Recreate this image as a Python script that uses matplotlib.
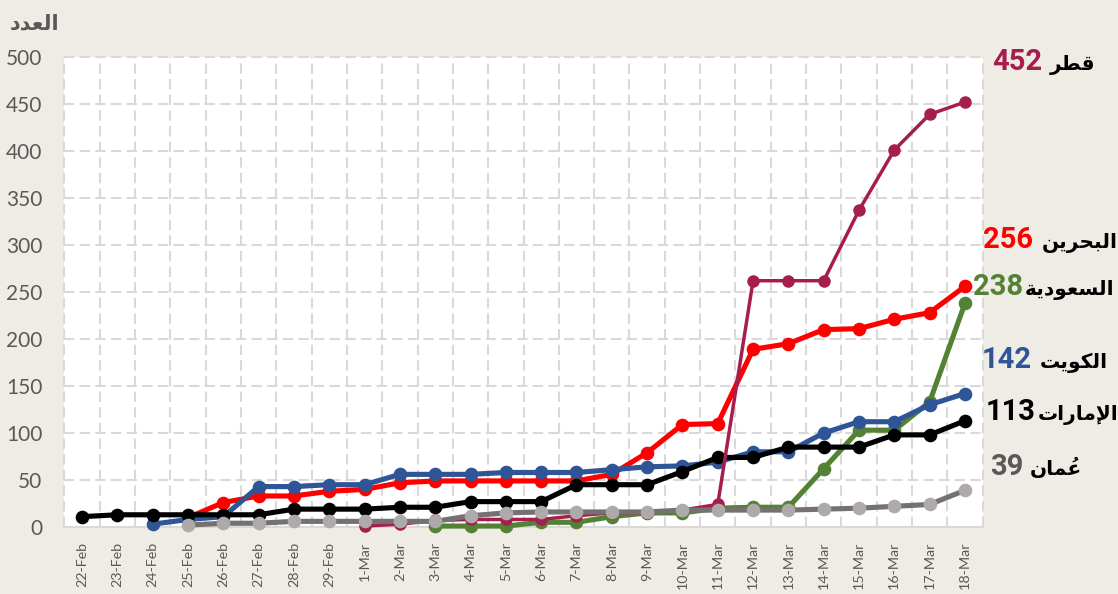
import matplotlib
matplotlib.use("Agg")
import matplotlib.pyplot as plt

# ---------------- data ----------------
dates = ["22-Feb", "23-Feb", "24-Feb", "25-Feb", "26-Feb", "27-Feb", "28-Feb", "29-Feb",
         "1-Mar", "2-Mar", "3-Mar", "4-Mar", "5-Mar", "6-Mar", "7-Mar", "8-Mar", "9-Mar",
         "10-Mar", "11-Mar", "12-Mar", "13-Mar", "14-Mar", "15-Mar", "16-Mar", "17-Mar", "18-Mar"]
N = None
bahrain = [N, N, N, 10, 26, 33, 33, 38, 40, 47, 49, 49, 49, 49, 49, 56, 79, 109, 110, 189, 195, 210, 211, 221, 228, 256]
saudi   = [N, N, N, N, N, N, N, N, N, N, 1, 1, 1, 5, 5, 11, 15, 15, 20, 21, 21, 62, 103, 103, 133, 238]
kuwait  = [N, N, 3, 8, 11, 43, 43, 45, 45, 56, 56, 56, 58, 58, 58, 61, 64, 65, 69, 80, 80, 100, 112, 112, 130, 142]
uae     = [11, 13, 13, 13, 13, 13, 19, 19, 19, 21, 21, 27, 27, 27, 45, 45, 45, 59, 74, 74, 85, 85, 85, 98, 98, 113]
qatar   = [N, N, N, N, N, N, N, N, 1, 3, 7, 8, 8, 8, 12, 15, 15, 18, 24, 262, 262, 262, 337, 401, 439, 452]
oman    = [N, N, N, 2, 4, 4, 6, 6, 6, 6, 6, 12, 15, 16, 16, 16, 16, 18, 18, 18, 18, 19, 20, 22, 24, 39]

names = {"qatar": "قطر", "bahrain": "البحرين", "saudi": "السعودية",
         "kuwait": "الكويت", "uae": "الإمارات", "oman": "عُمان"}
y_title = "العدد"
yticks = [0, 50, 100, 150, 200, 250, 300, 350, 400, 450, 500]

# ---------------- minimal Arabic shaping (presentation forms) ----------------
FORMS = {
    'ا': (0xFE8D, 0xFE8E, None, None), 'إ': (0xFE87, 0xFE88, None, None),
    'أ': (0xFE83, 0xFE84, None, None),
    'ل': (0xFEDD, 0xFEDE, 0xFEDF, 0xFEE0), 'ع': (0xFEC9, 0xFECA, 0xFECB, 0xFECC),
    'د': (0xFEA9, 0xFEAA, None, None), 'ق': (0xFED5, 0xFED6, 0xFED7, 0xFED8),
    'ط': (0xFEC1, 0xFEC2, 0xFEC3, 0xFEC4), 'ر': (0xFEAD, 0xFEAE, None, None),
    'ب': (0xFE8F, 0xFE90, 0xFE91, 0xFE92), 'ح': (0xFEA1, 0xFEA2, 0xFEA3, 0xFEA4),
    'ي': (0xFEF1, 0xFEF2, 0xFEF3, 0xFEF4), 'ن': (0xFEE5, 0xFEE6, 0xFEE7, 0xFEE8),
    'س': (0xFEB1, 0xFEB2, 0xFEB3, 0xFEB4), 'و': (0xFEED, 0xFEEE, None, None),
    'ة': (0xFE93, 0xFE94, None, None), 'ك': (0xFED9, 0xFEDA, 0xFEDB, 0xFEDC),
    'ت': (0xFE95, 0xFE96, 0xFE97, 0xFE98), 'م': (0xFEE1, 0xFEE2, 0xFEE3, 0xFEE4),
}
LAMALEF = {'ا': (0xFEFB, 0xFEFC), 'إ': (0xFEF9, 0xFEFA), 'أ': (0xFEF7, 0xFEF8)}
MARKS = set('\u064B\u064C\u064D\u064E\u064F\u0650\u0651\u0652')


def shape(s):
    """Return (visual string without marks, list of (visual index of base, mark))."""
    clusters = []
    for ch in s:
        if ch in MARKS and clusters:
            clusters[-1][1].append(ch)
        else:
            clusters.append([ch, []])
    out = []
    i = 0
    prev_joins = False
    while i < len(clusters):
        b, m = clusters[i]
        if b not in FORMS:
            out.append([b, m]); prev_joins = False; i += 1; continue
        dual = FORMS[b][2] is not None
        if b == 'ل' and i + 1 < len(clusters) and clusters[i + 1][0] in LAMALEF:
            lig = LAMALEF[clusters[i + 1][0]]
            out.append([chr(lig[1] if prev_joins else lig[0]), m + clusters[i + 1][1]])
            prev_joins = False
            i += 2
            continue
        nxt = i + 1 < len(clusters) and clusters[i + 1][0] in FORMS
        cn = dual and nxt
        f = FORMS[b]
        if prev_joins and cn:
            g = f[3]
        elif cn:
            g = f[2]
        elif prev_joins:
            g = f[1]
        else:
            g = f[0]
        out.append([chr(g), m])
        prev_joins = dual
        i += 1
    vis = list(reversed(out))
    text = ''.join(b for b, _ in vis)
    marks = [(k, ''.join(m)) for k, (b, m) in enumerate(vis) if m]
    return text, marks


# ---------------- style ----------------
W, H = 1118, 594
bg = '#EEECE5'
grid_c = '#D9D9D9'
txt_c = '#595959'
AR_FONT = 'DejaVu Sans'
NUM_FONT = 'Roboto'
TICK_FONT = 'Lato'

fig = plt.figure(figsize=(W / 100, H / 100), dpi=100, facecolor=bg)
ax = fig.add_axes([64.4 / W, (H - 527) / H, (982.6 - 64.4) / W, 470 / H])
ax.set_facecolor('white')

x = list(range(len(dates)))

series = [
    (bahrain, '#FF0000', '#FF0000', 3.7, 8.8, 2),
    (saudi, '#548235', '#548235', 3.7, 8.8, 3),
    (kuwait, '#2F5597', '#2F5597', 3.7, 8.8, 4),
    (uae, '#000000', '#000000', 3.7, 8.8, 5),
    (qatar, '#A61E4D', '#A61E4D', 2.5, 8.0, 6),
    (oman, '#767171', '#AEAAAA', 3.7, 8.8, 7),
]
for vals, lc, mc, lw, ms, z in series:
    xs = [xi for xi, v in zip(x, vals) if v is not None]
    ys = [v for v in vals if v is not None]
    ax.plot(xs, ys, color=lc, lw=lw, marker='o', ms=ms, mfc=mc, mec=mc,
            solid_joinstyle='round', zorder=z, clip_on=False)

ax.set_xlim(-0.5, len(dates) - 0.5)
ax.set_ylim(0, 500)
ax.set_yticks(yticks)
ax.set_xticks(x)
ax.set_xticklabels(dates, rotation=90, fontsize=10.3, color=txt_c, family=TICK_FONT)
ax.set_yticklabels([str(t) for t in yticks], fontsize=15, color=txt_c, family='Lato')
ax.tick_params(axis='both', length=0)
ax.tick_params(axis='y', pad=16)
ax.tick_params(axis='x', pad=10.5)

for t in yticks[1:]:
    ax.axhline(t, color=grid_c, lw=1.5, ls=(0, (5, 2.5)), zorder=0, clip_on=False)
for b in range(len(dates) + 1):
    ax.axvline(b - 0.5, color=grid_c, lw=1.5, ls=(0, (5, 2.5)), zorder=0, clip_on=False)

for s in ['top', 'left', 'right']:
    ax.spines[s].set_visible(False)
ax.spines['bottom'].set_color(grid_c)
ax.spines['bottom'].set_linewidth(1.5)

renderer = fig.canvas.get_renderer()

# spacing (isolated) presentation forms of the harakat, so each has a real width
SPACING_MARK = {'\u064F': '\uFE78', '\u064E': '\uFE76', '\u0650': '\uFE7A'}


def text_width(s, fs):
    if not s:
        return 0.0
    tmp = fig.text(0, 0, s, fontsize=fs, fontweight='bold', family=AR_FONT)
    w = tmp.get_window_extent(renderer).width
    tmp.remove()
    return w


def arabic(xl_px, base_px, word, fs, color):
    txt, marks = shape(word)
    t = fig.text(xl_px / W, 1 - base_px / H, txt, ha='left', va='baseline', fontsize=fs,
                 fontweight='bold', color=color, family=AR_FONT)
    bb = t.get_window_extent(renderer)
    for k, m in marks:
        w0 = text_width(txt[:k], fs)
        w1 = text_width(txt[:k + 1], fs)
        cx = bb.x0 + (w0 + w1) / 2
        mk = ''.join(SPACING_MARK.get(c, c) for c in m)
        fig.text(cx / W, 1 - (base_px - fs * 0.1) / H, mk, ha='center', va='baseline',
                 fontsize=fs, fontweight='bold', color=color, family=AR_FONT)
    return t


# y title
arabic(10, 29, y_title, 15, txt_c)

# end labels: (key, values, number right edge px, name left edge px, baseline px, color, num size)
labels = [
    ("qatar", qatar, 1042, 1050, 70, '#A61E4D', 21),
    ("bahrain", bahrain, 1033, 1042, 248, '#FF0000', 21),
    ("saudi", saudi, 1023, 1025, 295, '#548235', 21),
    ("kuwait", kuwait, 1032, 1040, 368, '#2F5597', 21),
    ("uae", uae, 1035, 1038, 420, '#000000', 21),
    ("oman", oman, 1023, 1030, 475, '#595959', 21),
]
for key, vals, xr, xl, base, col, fs in labels:
    fig.text(xr / W, 1 - base / H, str(vals[-1]), ha='right', va='baseline',
             fontsize=fs, fontweight='bold', color=col, family=NUM_FONT)
    arabic(xl, base, names[key], 14.5, '#000000')

fig.savefig('out.png', dpi=100, facecolor=bg)
